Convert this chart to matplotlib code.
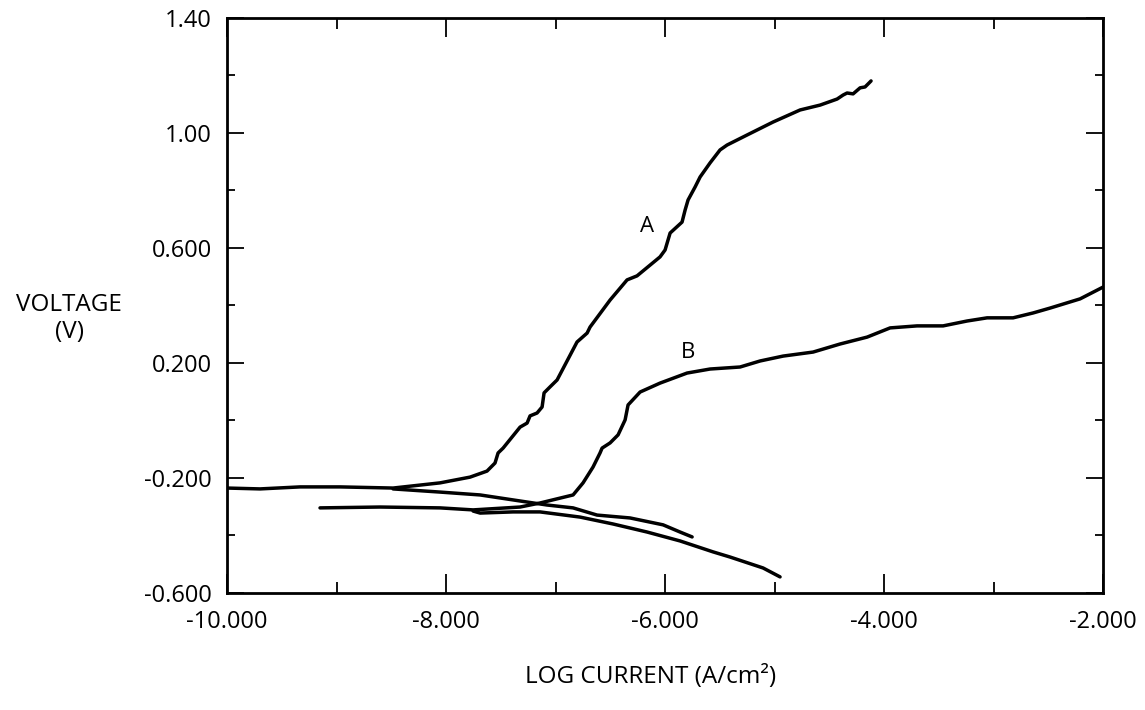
import matplotlib
matplotlib.use("Agg")
import matplotlib.pyplot as plt
from matplotlib.ticker import FixedLocator, MultipleLocator

# ---- data (log current, voltage) ----
a_anodic_x = [-10.000, -9.699, -9.333, -8.968, -8.484, -8.055, -7.781, -7.626, -7.553, -7.525,
              -7.479, -7.324, -7.260, -7.233, -7.169, -7.123, -7.105, -7.050, -6.986, -6.804,
              -6.712, -6.685, -6.502, -6.347, -6.256, -6.046, -6.000, -5.954, -5.845, -5.817,
              -5.790, -5.726, -5.680, -5.589, -5.498, -5.434, -5.251, -5.014, -4.767, -4.584,
              -4.429, -4.374, -4.338, -4.283, -4.219, -4.174, -4.137, -4.119]
a_anodic_y = [-0.235, -0.238, -0.231, -0.231, -0.235, -0.217, -0.197, -0.176, -0.148, -0.113,
              -0.096, -0.023, -0.009, 0.016, 0.026, 0.047, 0.096, 0.117, 0.141, 0.273,
              0.304, 0.325, 0.419, 0.489, 0.503, 0.569, 0.593, 0.652, 0.690, 0.732,
              0.767, 0.812, 0.847, 0.896, 0.941, 0.958, 0.993, 1.038, 1.080, 1.097,
              1.118, 1.132, 1.139, 1.136, 1.157, 1.160, 1.174, 1.181]

a_cathodic_x = [-8.484, -8.055, -7.689, -7.324, -7.078, -6.840, -6.621, -6.320, -6.018, -5.863, -5.753]
a_cathodic_y = [-0.238, -0.249, -0.259, -0.280, -0.294, -0.304, -0.329, -0.339, -0.363, -0.388, -0.405]

b_anodic_x = [-9.151, -8.603, -8.055, -7.753, -7.324, -7.142, -6.959, -6.840, -6.749, -6.658,
              -6.594, -6.575, -6.502, -6.429, -6.365, -6.338, -6.228, -6.046, -5.799, -5.589,
              -5.315, -5.132, -4.922, -4.648, -4.402, -4.155, -3.945, -3.699, -3.461, -3.242,
              -3.059, -2.822, -2.639, -2.484, -2.210, -2.000]
b_anodic_y = [-0.304, -0.301, -0.304, -0.311, -0.301, -0.287, -0.270, -0.259, -0.217, -0.162,
              -0.113, -0.096, -0.078, -0.050, 0.002, 0.054, 0.099, 0.130, 0.165, 0.179,
              0.186, 0.207, 0.224, 0.238, 0.266, 0.290, 0.322, 0.329, 0.329, 0.346,
              0.357, 0.357, 0.374, 0.391, 0.423, 0.464]

b_cathodic_x = [-7.753, -7.689, -7.388, -7.142, -6.776, -6.475, -6.164, -5.863, -5.562, -5.406, -5.105, -4.950]
b_cathodic_y = [-0.315, -0.322, -0.318, -0.318, -0.336, -0.360, -0.388, -0.419, -0.457, -0.475, -0.513, -0.544]

curve_labels = ["A", "B"]
label_x = [-6.164, -5.790]
label_y = [0.673, 0.238]

x_ticks = [-10, -8, -6, -4, -2]
x_tick_labels = ["-10.000", "-8.000", "-6.000", "-4.000", "-2.000"]
y_ticks = [1.4, 1.0, 0.6, 0.2, -0.2, -0.6]
y_tick_labels = ["1.40", "1.00", "0.600", "0.200", "-0.200", "-0.600"]

# ---- figure ----
plt.rcParams['font.family'] = ['Open Sans', 'DejaVu Sans']
fig = plt.figure(figsize=(11.45, 7.1), dpi=100)
ax = fig.add_axes([0.1983, 0.1648, 0.7651, 0.8099])

lw = 2.5
for xs, ys in [(a_anodic_x, a_anodic_y), (a_cathodic_x, a_cathodic_y),
               (b_anodic_x, b_anodic_y), (b_cathodic_x, b_cathodic_y)]:
    ax.plot(xs, ys, color='black', lw=lw, solid_capstyle='round', solid_joinstyle='round')

for t, lx, ly in zip(curve_labels, label_x, label_y):
    ax.text(lx, ly, t, fontsize=16, ha='center', va='center')

ax.set_xlim(-10, -2)
ax.set_ylim(-0.6, 1.4)
ax.xaxis.set_major_locator(FixedLocator(x_ticks))
ax.set_xticklabels(x_tick_labels)
ax.xaxis.set_minor_locator(MultipleLocator(1))
ax.yaxis.set_major_locator(FixedLocator(y_ticks))
ax.set_yticklabels(y_tick_labels)
ax.yaxis.set_minor_locator(MultipleLocator(0.2))

ax.tick_params(which='both', direction='in', top=True, right=True, width=1.3, labelsize=17)
ax.tick_params(axis='x', which='major', length=14, pad=12)
ax.tick_params(axis='x', which='minor', length=8)
ax.tick_params(axis='y', which='major', length=12, pad=11)
ax.tick_params(axis='y', which='minor', length=6)
for s in ax.spines.values():
    s.set_linewidth(2.0)

ax.set_ylabel("VOLTAGE\n(V)", rotation=0, fontsize=17.5, ha='center', va='center',
              multialignment='center', linespacing=1.15)
ax.yaxis.set_label_coords(-0.180, 0.477)
ax.set_xlabel("LOG CURRENT (A/cm²)", fontsize=17.5, ha='center', va='center')
ax.xaxis.set_label_coords(0.484, -0.146)

fig.savefig("out.png", dpi=100, facecolor='white')
